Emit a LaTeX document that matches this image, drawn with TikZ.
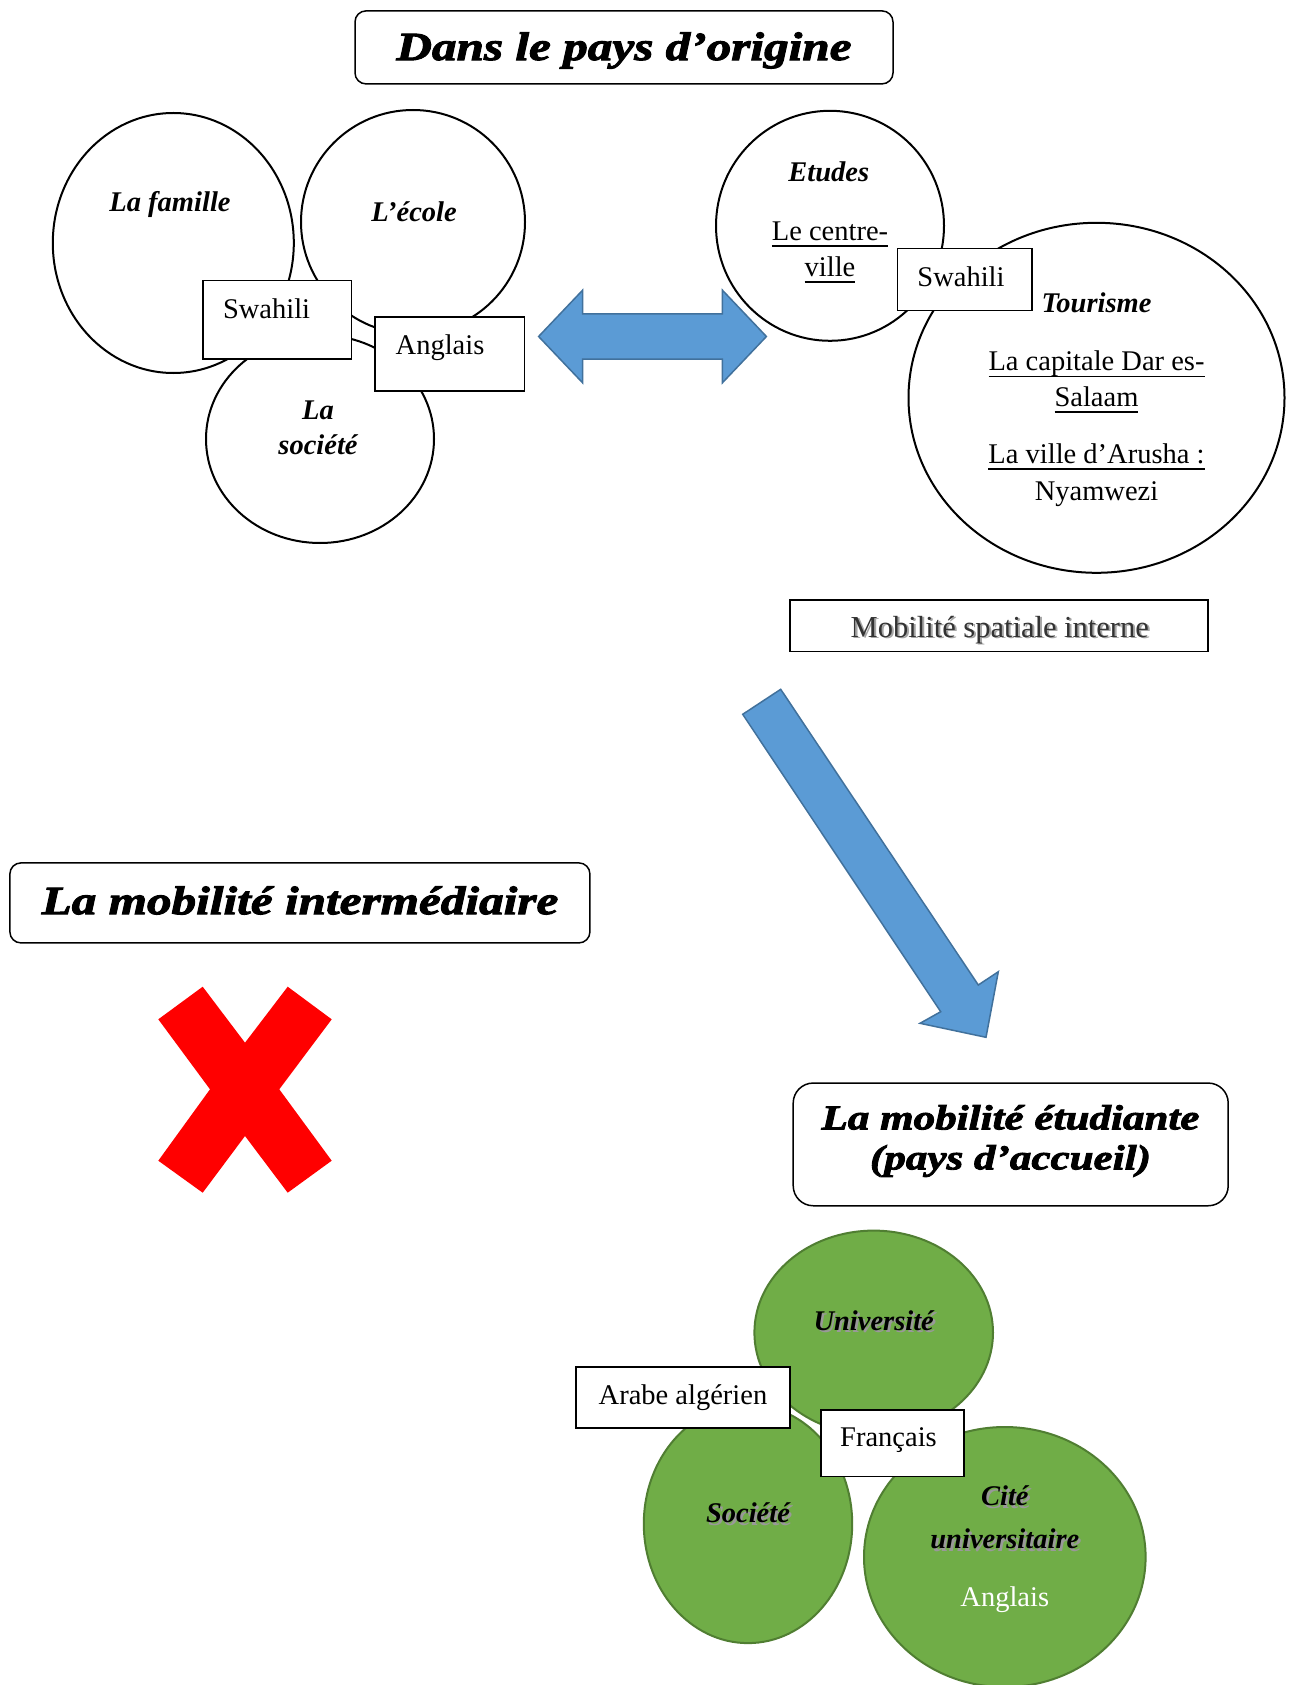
\documentclass[tikz,border=0pt]{standalone}
\usepackage{fontspec}
\setmainfont{Liberation Serif}
\newfontfamily\heavyfont{Liberation Serif}[BoldItalicFeatures={FakeBold=2.5,FakeStretch=1.23}]
\usetikzlibrary{shapes.geometric}

\definecolor{arrowblue}{HTML}{5B9BD5}
\definecolor{arrowedge}{HTML}{41719C}
\definecolor{leaf}{HTML}{70AD47}
\definecolor{leafedge}{HTML}{507E32}

% text with a rule drawn under the baseline
\newcommand\ulx[1]{\setbox0\hbox{#1}\rlap{\vrule height -5pt depth 6.6pt width \wd0}\box0}

\newcommand\regsize{\fontsize{28.5}{34}\selectfont}
\newcommand\heavybig{\heavyfont\bfseries\itshape\fontsize{40}{44}\selectfont}
\newcommand\heavymid{\heavyfont\bfseries\itshape\fontsize{35}{40}\selectfont}

\tikzset{
  bubble/.style={ellipse, draw, line width=2pt, fill=white, inner sep=0pt},
  greenbubble/.style={ellipse, draw=leafedge, line width=2pt, fill=leaf, inner sep=0pt},
  langbox/.style={rectangle, draw, line width=1.5pt, fill=white, inner sep=0pt},
  titlebox/.style={rectangle, draw, line width=1.5pt, rounded corners=11pt, fill=white, inner sep=0pt},
  plain/.style={font=\regsize, inner sep=0pt},
  tag/.style={font=\regsize\bfseries\itshape, inner sep=0pt},
  shade/.style={font=\regsize\bfseries\itshape, inner sep=0pt, text=black!40},
  blockarrow/.style={fill=arrowblue, draw=arrowedge, line width=1.5pt, line join=miter},
}

\begin{document}
\begin{tikzpicture}[x=1pt,y=-1pt]
\fill[white] (0,0) rectangle (1290,1685);
\useasboundingbox (0,0) rectangle (1290,1685);

% ---- country of origin ----
\node[titlebox, minimum width=538pt, minimum height=73pt] (origine) at (624,47.4) {};
\node[font=\heavybig, inner sep=0pt] (origine-t) at (624,50.5) {Dans le pays d’origine};

% family / school / society
\node[bubble, minimum width=241pt, minimum height=260pt] (famille) at (173.3,243) {};
\node[bubble, minimum width=224pt, minimum height=224pt] (ecole) at (413,222) {};
\node[bubble, minimum width=228pt, minimum height=208pt] (societe) at (320,439) {};
\node[tag] (famille-t) at (170,205) {La famille};
\node[tag] (ecole-t) at (414,212) {L’école};
\node[tag] (societe-t1) at (318,410) {La};
\node[tag] (societe-t2) at (318,445) {société};

\node[langbox, minimum width=148.5pt, minimum height=78.5pt] (swa1) at (277.2,319.8) {};
\node[plain] (swa1-t) at (266.6,308.5) {Swahili};
\node[langbox, minimum width=149.5pt, minimum height=74pt] (ang1) at (449.7,354) {};
\node[plain] (ang1-t) at (440,348) {Anglais};

% two-way arrow
\draw[blockarrow] (538.6,336.5) -- (582.6,290.2) -- (582.6,314) -- (722.4,314)
  -- (722.4,290.2) -- (766.4,336.5) -- (722.4,382.8) -- (722.4,359)
  -- (582.6,359) -- (582.6,382.8) -- cycle;

% studies / tourism
\node[bubble, minimum width=228pt, minimum height=230pt] (etudes) at (830,225.8) {};
\node[bubble, minimum width=376pt, minimum height=350pt] (tourisme) at (1096.5,397.8) {};
\node[langbox, minimum width=134.4pt, minimum height=62.4pt] (swa2) at (964.8,279.5) {};
\node[plain] (swa2-t) at (961,276.3) {Swahili};
\node[tag] (etudes-t) at (828.8,172) {Etudes};
\node[plain] (centre1) at (830,234) {\ulx{Le centre-}};
\node[plain] (centre2) at (830,269.6) {\ulx{ville}};
\node[tag] (tourisme-t) at (1096.5,303) {Tourisme};
\node[plain] (dar1) at (1096.5,364) {\ulx{La capitale Dar es-}};
\node[plain] (dar2) at (1096.5,399.7) {\ulx{Salaam}};
\node[plain] (arusha1) at (1096.5,456.6) {\ulx{La ville d’Arusha :}};
\node[plain] (arusha2) at (1096.5,494.3) {Nyamwezi};

% internal mobility
\node[draw, line width=1.5pt, minimum width=418pt, minimum height=51.7pt, inner sep=0pt] (spatiale) at (999,625.6) {};
\node[inner sep=0pt, font=\fontsize{30.5}{34}\selectfont, text=black!35] (spatiale-s) at (1001.8,631.6) {Mobilité spatiale interne};
\node[inner sep=0pt, font=\fontsize{30.5}{34}\selectfont, text=black!80] (spatiale-t) at (999.8,629.7) {Mobilité spatiale interne};

% arrow down to host country
\draw[blockarrow] (742.7,714.3) -- (780.7,689.3) -- (978.3,985) -- (998.3,971.7)
  -- (986,1037.3) -- (920,1023.3) -- (940.7,1011.7) -- cycle;

% ---- intermediate mobility ----
\node[titlebox, minimum width=580pt, minimum height=80pt] (intermed) at (299.9,902.9) {};
\node[font=\heavybig, inner sep=0pt] (intermed-t) at (300,900.5) {La mobilité intermédiaire};
\fill[red] (158.3,1019.3) -- (202.7,986.7) -- (245,1042.7) -- (287.7,986.7)
  -- (331.7,1019.3) -- (279.3,1089.3) -- (331.7,1160.7) -- (287.7,1192.7)
  -- (245,1136) -- (202.7,1192.7) -- (158.3,1160.7) -- (210,1089.3) -- cycle;

% ---- student mobility ----
\node[titlebox, rounded corners=20pt, minimum width=435pt, minimum height=122.7pt] (etudiante) at (1010.7,1144.4) {};
\node[align=center, font=\heavymid, inner sep=0pt] (etudiante-t) at (1010.5,1141) {La mobilité étudiante\\(pays d’accueil)};

\node[greenbubble, minimum width=238.6pt, minimum height=204pt] (univ) at (873.7,1332.6) {};
\node[greenbubble, minimum width=208.4pt, minimum height=238.6pt] (soc) at (748,1523.8) {};
\node[greenbubble, minimum width=281.6pt, minimum height=260pt] (cite) at (1004.8,1557) {};
\node[langbox, minimum width=214pt, minimum height=61pt, font=\regsize] (arabe) at (683,1397.5) {Arabe algérien};
\node[langbox, minimum width=143pt, minimum height=66.5pt] (fr) at (892.5,1443.2) {};
\node[plain] (fr-t) at (888.5,1440) {Français};

\node[shade] (univ-s) at (876,1323) {Université};
\node[tag] (univ-t) at (873.7,1320.7) {Université};
\node[shade] (soc-s) at (750.3,1515.3) {Société};
\node[tag] (soc-t) at (748,1513) {Société};
\node[shade] (cite-s1) at (1007.1,1498.3) {Cité};
\node[tag] (cite-t1) at (1004.8,1496) {Cité};
\node[shade] (cite-s2) at (1007.1,1541.3) {universitaire};
\node[tag] (cite-t2) at (1004.8,1539) {universitaire};
\node[plain, text=white] (cite-t3) at (1004.8,1600) {Anglais};
\end{tikzpicture}
\end{document}
